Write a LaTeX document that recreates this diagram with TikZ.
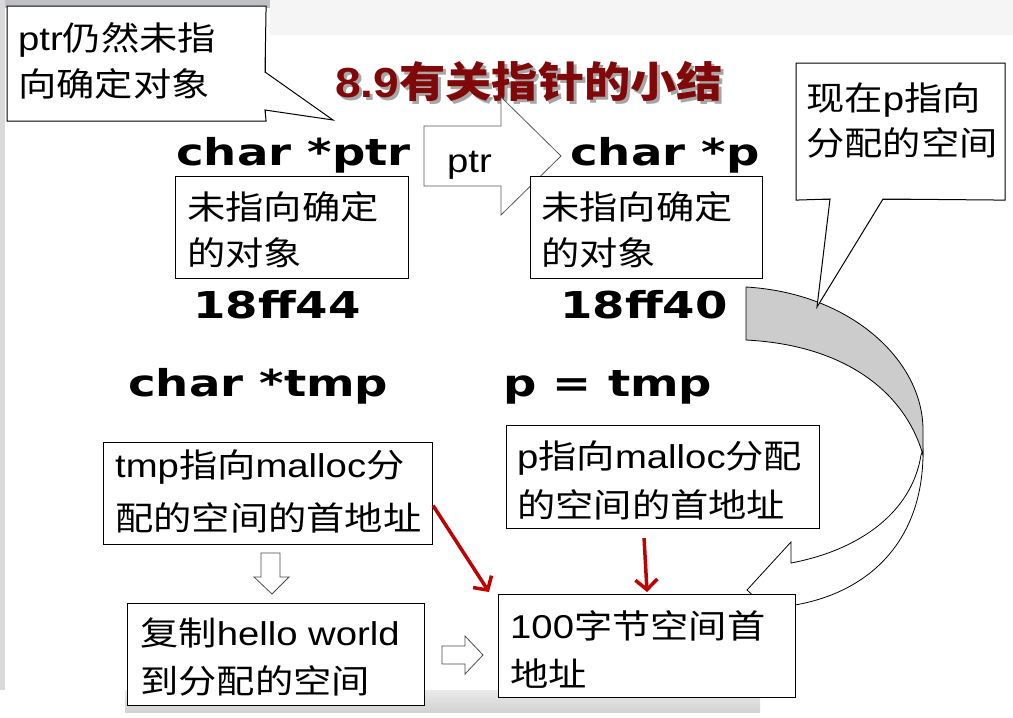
\documentclass[tikz,border=0pt]{standalone}
\usepackage{fontspec}
\usetikzlibrary{arrows.meta}
\newfontfamily\cjkf[FakeStretch=1.16]{Noto Sans CJK SC}
\newfontfamily\latf[FakeStretch=1.16]{Liberation Sans}
\newfontfamily\codef[FakeStretch=1.26]{DejaVu Sans}
\newfontfamily\titlecjkf[FakeStretch=1.1]{Noto Sans CJK SC}
\newfontfamily\titlelatf[FakeStretch=1.1]{Liberation Sans}
\newcommand\la[1]{{\latf #1}}
\newcommand\titletext{\titlelatf\bfseries 8.9\titlecjkf\bfseries 有关指针的小结}
\definecolor{titlered}{RGB}{128,8,8}
\definecolor{arrowred}{RGB}{190,0,0}
\definecolor{ribbon}{RGB}{204,204,204}
\tikzset{
  box/.style={draw=black, line width=1.1pt, fill=white, inner sep=0pt, anchor=north west},
  txt/.style={anchor=base west, inner sep=0pt, font=\cjkf\fontsize{33}{40}\selectfont},
  codetxt/.style={anchor=base west, inner sep=0pt, font=\codef\bfseries\fontsize{37}{44}\selectfont},
  hollow/.style={draw=black!70, line width=0.8pt, fill=white},
  redarrow/.style={draw=arrowred, line width=3.5pt, -{Straight Barb[length=10pt,width=22pt]}},
  callout/.style={draw=black, line width=1pt, fill=white, line join=miter}
}
\begin{document}
\begin{tikzpicture}[x=1pt,y=-1pt]
\useasboundingbox (0,0) rectangle (1013,718);
% background
\fill[white] (0,0) rectangle (1013,718);
\fill[black!4] (270,0) rectangle (1013,35);
\fill[blue!10!black!25] (0,0) rectangle (270,8);
\fill[black!15] (0,0) rectangle (5,690);
\shade[top color=black!8, bottom color=black!18] (125,690) rectangle (760,712);

% title with shadow (one node)
\node[anchor=base west, inner sep=0pt, font=\fontsize{42}{50}\selectfont] (title) at (335,97)
  {\rlap{\hspace{3pt}\raisebox{-3pt}{\textcolor{black!35}{\titletext}}}\textcolor{titlered}{\titletext}};

% callout 1
\node[box, minimum width=258pt, minimum height=114pt] (c1) at (7,6) {};
\draw[callout] (c1.north west) -- (c1.north east) -- (265,72) -- (333,120) -- (265,110)
  -- (c1.south east) -- (c1.south west) -- cycle;
\node[txt] (c1a) at (18,50) {\la{ptr}仍然未指};
\node[txt] (c1b) at (18,96) {向确定对象};

% left column top
\node[codetxt] (cptr) at (176,165) {char *ptr};
\node[box, minimum width=233pt, minimum height=102pt] (bptr) at (175,176) {};
\node[txt] (bptra) at (187,219) {未指向确定};
\node[txt] (bptrb) at (187,265) {的对象};
\node[codetxt] (a1) at (193,318) {18ff44};

% big ptr arrow
\draw[hollow, draw=black!65] (424,126) -- (501,126) -- (501,97) -- (561,156) -- (501,215)
  -- (501,186) -- (424,186) -- cycle;
\node[anchor=base west, inner sep=0pt, font=\latf\fontsize{33}{40}\selectfont] (ptrlbl) at (447,172) {ptr};

% right column top
\node[codetxt] (cp) at (570,165) {char *p};
\node[box, minimum width=232pt, minimum height=102pt] (bp) at (530,176) {};
\node[txt] (bpa) at (541,219) {未指向确定};
\node[txt] (bpb) at (541,265) {的对象};
\node[codetxt] (a2) at (560,318) {18ff40};

% curved ribbon arrow
\draw[line width=0.8pt, fill=white, line join=miter]
  (923,450) .. controls (924,540) and (870,592) .. (795,605) -- (791,630) -- (747,590)
  -- (791,542) -- (791,563) .. controls (860,550) and (912,512) .. (921,455) -- cycle;
\draw[line width=0.8pt, fill=ribbon]
  (746,287) .. controls (850,293) and (923,360) .. (923,430) -- (923,455)
  .. controls (905,392) and (845,345) .. (746,340) -- cycle;

% callout 2
\node[box, minimum width=208pt, minimum height=136pt] (c2) at (796,63) {};
\draw[callout] (c2.north west) -- (c2.north east) -- (c2.south east) -- (883,199) -- (817,307)
  -- (830,199) -- (c2.south west) -- cycle;
\node[txt] (c2a) at (806,110) {现在\la{p}指向};
\node[txt] (c2b) at (806,155) {分配的空间};

% middle code lines
\node[codetxt] (ctmp) at (128,396) {char *tmp};
\node[codetxt] (pt) at (503,396) {p = tmp};

% tmp box
\node[box, minimum width=329pt, minimum height=102pt] (btmp) at (103,442) {};
\node[txt] (btmpa) at (115,477) {\la{tmp}指向\la{malloc}分};
\node[txt] (btmpb) at (115,530) {配的空间的首地址};

% down hollow arrow
\draw[hollow] (261,553) -- (280,553) -- (280,577) -- (289,577) -- (272,594) -- (254,577)
  -- (261,577) -- cycle;

% copy box
\node[box, minimum width=297pt, minimum height=102pt] (bcopy) at (127,603) {};
\node[txt] (bcopya) at (140,645) {复制\la{hello world}};
\node[txt] (bcopyb) at (140,693) {到分配的空间};

% right hollow arrow
\draw[hollow] (442,646) -- (465,646) -- (465,636) -- (483,655) -- (465,674) -- (465,664)
  -- (442,664) -- cycle;

% p box
\node[box, minimum width=313pt, minimum height=103pt] (bpm) at (506,425) {};
\node[txt] (bpma) at (517,468) {\la{p}指向\la{malloc}分配};
\node[txt] (bpmb) at (517,517) {的空间的首地址};

% 100 box
\node[box, minimum width=297pt, minimum height=103pt] (b100) at (498,594) {};
\node[txt] (b100a) at (510,638) {\la{100}字节空间首};
\node[txt] (b100b) at (510,686) {地址};

% red arrows
\draw[redarrow] ([yshift=-12pt]btmp.east) -- ([xshift=-9pt,yshift=2pt]b100.north west);
\draw[redarrow] ([xshift=-19pt,yshift=-9pt]bpm.south) -- ([yshift=2pt]b100.north);
\end{tikzpicture}
\end{document}
